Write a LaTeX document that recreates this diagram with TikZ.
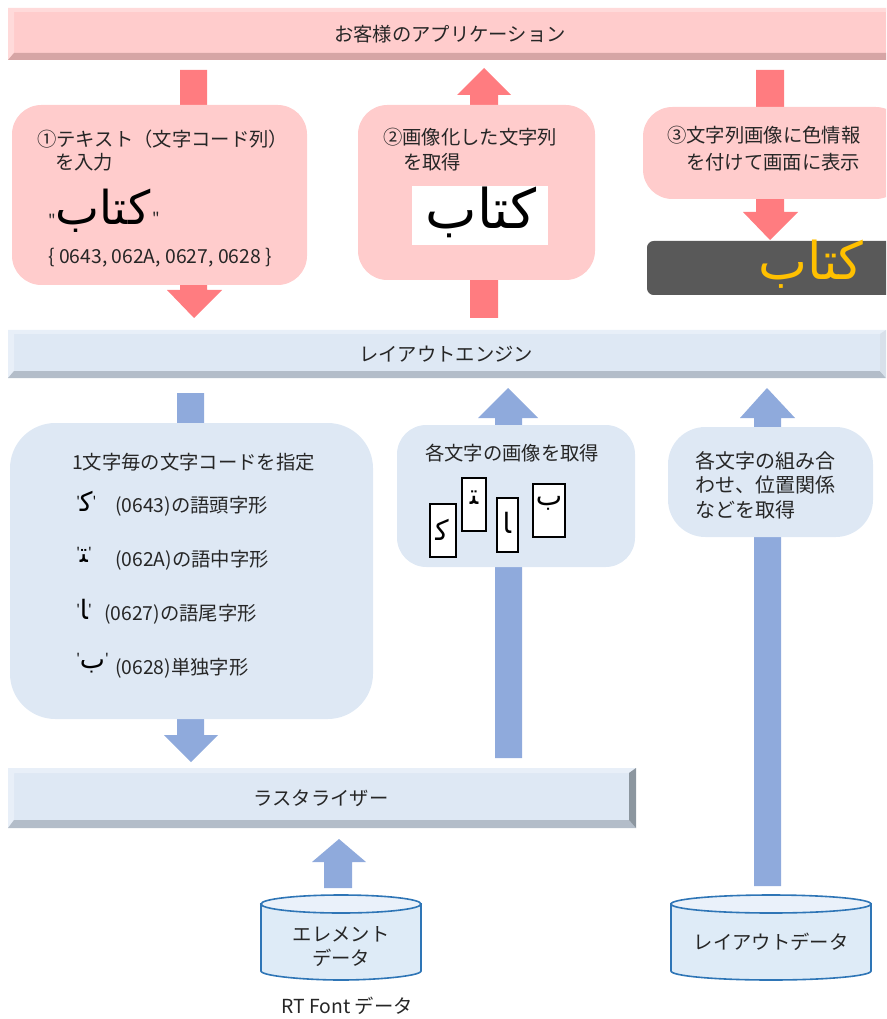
\documentclass[tikz,border=0pt]{standalone}
\usepackage{fontspec}
\newfontfamily\jp{Noto Sans CJK JP}
\newfontfamily\arab[Script=Arabic]{DejaVu Sans}
\TeXXeTstate=1
\usetikzlibrary{fit}
\definecolor{pinkbox}{HTML}{FFCCCC}
\definecolor{pinklight}{HTML}{FFDADA}
\definecolor{pinkdark}{HTML}{D6A5A5}
\definecolor{pinkarrow}{HTML}{FF7C80}
\definecolor{bluebox}{HTML}{DEE8F4}
\definecolor{bluelight}{HTML}{E8EFF8}
\definecolor{bluedark}{HTML}{B3BDC9}
\definecolor{blueright}{HTML}{8C969F}
\definecolor{bluearrow}{HTML}{8FAADC}
\definecolor{darkbox}{HTML}{595959}
\definecolor{gold}{HTML}{FFC000}
\definecolor{cylfill}{HTML}{DEEBF7}
\definecolor{cyltop}{HTML}{EAF1FA}
\definecolor{cylline}{HTML}{2E75B6}
\definecolor{txt}{HTML}{262626}
\newcommand\ar[1]{{\arab\beginR #1\endR}}
\newcommand\qs{{\jp\fontsize{10}{10}\selectfont\raisebox{0.35em}{'}}}
\begin{document}
\begin{tikzpicture}[x=0.75pt,y=-0.75pt,
  every node/.style={font=\jp\fontsize{14.5}{18.5}\selectfont, inner sep=0pt, text=txt},
  pinkrnd/.style={fill=pinkbox, draw=none, rounded corners=22pt, inner sep=0pt},
  bluernd/.style={fill=bluebox, draw=none, inner sep=0pt},
  glyphbox/.style={draw=black, line width=1.5pt, fill=white, inner sep=0pt},
  lbl/.style={anchor=west},
  glyph/.style={font=\arab\fontsize{20}{20}\selectfont, text=black},
  boxglyph/.style={font=\arab\fontsize{21}{21}\selectfont, text=black},
  arabicbig/.style={font=\arab\fontsize{#1}{#1}\selectfont, text=black}]
\useasboundingbox (0,0) rectangle (886,1019);
\clip (0,0) rectangle (886,1019);

% ---------- block arrows ----------
\fill[pinkarrow] (180,70) -- (207,70) -- (207,290) -- (222,290) -- (194,318) -- (167,290) -- (180,290) -- cycle;
\fill[pinkarrow] (470,318) -- (470,95) -- (457,95) -- (484,68) -- (511,95) -- (498,95) -- (498,318) -- cycle;
\fill[pinkarrow] (756,70) -- (784,70) -- (784,212) -- (798,212) -- (770,240) -- (743,212) -- (756,212) -- cycle;
\fill[bluearrow] (177,393) -- (204,393) -- (204,735) -- (218,735) -- (191,762) -- (164,735) -- (177,735) -- cycle;
\fill[bluearrow] (495,758) -- (495,418) -- (478,418) -- (508,388) -- (538,418) -- (522,418) -- (522,758) -- cycle;
\fill[bluearrow] (754,886) -- (754,418) -- (740,418) -- (767,388) -- (795,418) -- (781,418) -- (781,886) -- cycle;
\fill[bluearrow] (324,888) -- (324,862) -- (312,862) -- (339,839) -- (366,862) -- (352,862) -- (352,888) -- cycle;

% ---------- top bar ----------
\fill[pinkbox] (8,8) rectangle (890,60);
\fill[pinklight] (8,8) -- (890,8) -- (890,12) -- (14,12) -- (14,53) -- (8,60) -- cycle;
\fill[pinkdark] (8,60) -- (14,53) -- (890,53) -- (890,60) -- cycle;
\node (app) at (450,34) {お客様のアプリケーション};

% ---------- pink boxes ----------
\node[pinkrnd, fit={(12,105) (307,285)}] (in) {};
\node[lbl] (in1) at (37,139) {①テキスト（文字コード列）};
\node[lbl] (in2) at (55,162) {を入力};
\node[font=\jp\fontsize{12}{12}\selectfont] (q1) at (52,220) {"};
\node[arabicbig=35] (inw) at (103,211) {\ar{كتاب}};
\node[font=\jp\fontsize{12}{12}\selectfont] (q2) at (156,218) {"};
\node[lbl] (codes) at (48,258) {\{ 0643, 062A, 0627, 0628 \}};

\node[pinkrnd, fit={(358,105) (595,280)}] (img) {};
\node[lbl] (img1) at (383,137) {②画像化した文字列};
\node[lbl] (img2) at (403,162) {を取得};
\node[fill=white, fit={(412,186) (548,245)}] (imgw) {};
\node[arabicbig=41] (imgt) at (481,212) {\ar{كتاب}};

\node[pinkrnd, fit={(643,107) (905,199)}] (disp) {};
\node[lbl] (disp1) at (667,135) {③文字列画像に色情報};
\node[lbl] (disp2) at (686,162) {を付けて画面に表示};
\node[fill=darkbox, rounded corners=5pt, fit={(647,241) (905,295)}] (scr) {};
\node[arabicbig=39, text=gold] (scrt) at (811,264) {\ar{كتاب}};

% ---------- layout engine bar ----------
\fill[bluebox] (8,330) rectangle (886,378);
\fill[bluelight] (8,330) -- (886,330) -- (880,334) -- (14,334) -- (14,371) -- (8,378) -- cycle;
\fill[bluedark] (8,378) -- (14,371) -- (880,371) -- (886,378) -- cycle;
\fill[bluelight!70!bluedark] (886,330) -- (886,378) -- (880,371) -- (880,334) -- cycle;
\node (le) at (446,354) {レイアウトエンジン};

% ---------- blue boxes ----------
\node[bluernd, rounded corners=34pt, fit={(10,423) (373,719)}] (spec) {};
\node[lbl] (spec0) at (72,462) {1文字毎の文字コードを指定};
\node[lbl, glyph] (g1) at (76,501) {\qs\ar{^^^^fedb}\qs};
\node[lbl] (spec1) at (115,506) {(0643)の語頭字形};
\node[lbl, glyph] (g2) at (76,555) {\qs\ar{^^^^fe98}\qs};
\node[lbl] (spec2) at (115,560) {(062A)の語中字形};
\node[lbl, glyph] (g3) at (76,609) {\qs\ar{^^^^fe8e}\qs};
\node[lbl] (spec3) at (104,614) {(0627)の語尾字形};
\node[lbl, glyph] (g4) at (76,663) {\qs\ar{^^^^fe8f}\qs};
\node[lbl] (spec4) at (115,668) {(0628)単独字形};

\node[bluernd, rounded corners=22pt, fit={(397,425) (635,567)}] (glyphs) {};
\node (gl0) at (512,453) {各文字の画像を取得};
\node[glyphbox, fit={(430,504) (456,557)}] (ga) {};
\node[boxglyph] (gat) at (442,530) {\ar{^^^^fedb}};
\node[glyphbox, fit={(462,478) (486,531)}] (gb) {};
\node[boxglyph] (gbt) at (474,498) {\ar{^^^^fe98}};
\node[glyphbox, fit={(497,498) (518,552)}] (gc) {};
\node[boxglyph] (gct) at (507,523) {\ar{^^^^fe8e}};
\node[glyphbox, fit={(533,484) (565,537)}] (gd) {};
\node[boxglyph] (gdt) at (549,503) {\ar{^^^^fe8f}};

\node[bluernd, rounded corners=28pt, fit={(668,427) (873,537)}] (comb) {};
\node[anchor=north west, align=left, font=\jp\fontsize{15}{18.5}\selectfont] (comb1) at (695,451) {各文字の組み合\\わせ、位置関係\\などを取得};

% ---------- rasterizer bar ----------
\fill[bluebox] (8,768) rectangle (636,828);
\fill[bluelight] (8,768) -- (636,768) -- (629,773) -- (14,773) -- (14,820) -- (8,828) -- cycle;
\fill[bluedark] (8,828) -- (14,820) -- (629,820) -- (636,828) -- cycle;
\fill[blueright] (636,768) -- (636,828) -- (629,820) -- (629,773) -- cycle;
\node (ras) at (321,798) {ラスタライザー};

% ---------- cylinders ----------
\filldraw[fill=cylfill, draw=cylline, line width=1.2pt]
  (261,904) -- (261,971) .. controls (261,976) and (305,980) .. (341,980)
  .. controls (377,980) and (421,976) .. (421,971) -- (421,904) -- cycle;
\filldraw[fill=cyltop, draw=cylline, line width=1.2pt] (341,904) ellipse [x radius=80, y radius=9];
\node (el1) at (341,934) {エレメント};
\node (el2) at (341,958) {データ};
\node (rtf) at (347,1006) {RT Font データ};

\filldraw[fill=cylfill, draw=cylline, line width=1.2pt]
  (671,904) -- (671,971) .. controls (671,976) and (716,980) .. (771,980)
  .. controls (826,980) and (871,976) .. (871,971) -- (871,904) -- cycle;
\filldraw[fill=cyltop, draw=cylline, line width=1.2pt] (771,904) ellipse [x radius=100, y radius=9];
\node (ld) at (771,942) {レイアウトデータ};
\end{tikzpicture}
\end{document}
